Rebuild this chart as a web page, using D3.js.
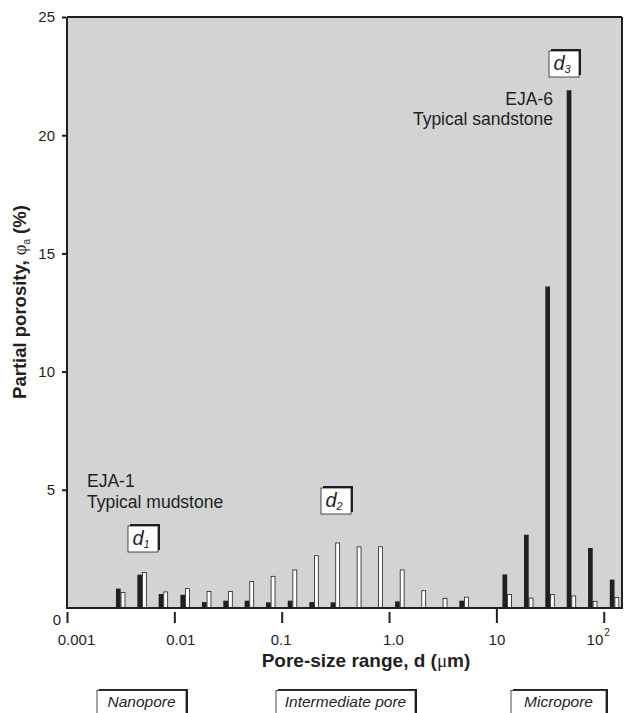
<!DOCTYPE html>
<html>
<head>
<meta charset="utf-8">
<script src="https://cdn.jsdelivr.net/npm/d3@7"></script>
<style>
body { margin: 0; background: #fff; }
svg { font-family: "Liberation Sans", Arial, Helvetica, sans-serif; }
</style>
</head>
<body>
<svg id="chart" width="624" height="713"></svg>
<script>
// pore-size classes (um), one pair of bars per class
var poreSizes = [0.00316, 0.005, 0.0079, 0.0126, 0.02, 0.0316, 0.05, 0.079, 0.126, 0.2, 0.316, 0.5,
                 0.79, 1.26, 2.0, 3.16, 5.0, 7.9, 12.6, 20, 31.6, 50, 79, 126];
// EJA-6, typical sandstone (black bars)
var sandstone = [0.82, 1.41, 0.59, 0.56, 0.25, 0.31, 0.31, 0.24, 0.31, 0.25, 0.24, 0,
                 0, 0.28, 0, 0, 0.31, 0, 1.42, 3.1, 13.6, 21.9, 2.54, 1.2];
// EJA-1, typical mudstone (white bars)
var mudstone = [0.66, 1.5, 0.68, 0.82, 0.70, 0.70, 1.12, 1.34, 1.61, 2.21, 2.75, 2.59,
                2.59, 1.61, 0.73, 0.41, 0.46, 0, 0.57, 0.42, 0.57, 0.51, 0.28, 0.44];
var xTicks = [0.001, 0.01, 0.1, 1, 10, 100];
var xTickLabels = ["0.001", "0.01", "0.1", "1.0", "10", "10"];
var yTicks = [5, 10, 15, 20, 25];
var poreClasses = ["Nanopore", "Intermediate pore", "Micropore"];

var svg = d3.select("#chart"),
    ink = "#231f20";

var x = d3.scaleLog().domain([0.001, 148]).range([67, 622]),
    y = d3.scaleLinear().domain([0, 25]).range([608, 17]);
var barW = 4.7;

// plot background
svg.append("rect")
    .attr("x", x(0.001)).attr("y", y(25))
    .attr("width", x(148) - x(0.001))
    .attr("height", y(0) - y(25))
    .attr("fill", "#d1d3d4");

var data = poreSizes.map(function(d, i) {
  return {size: d, sand: sandstone[i], mud: mudstone[i]};
});

var bars = svg.append("g");
bars.selectAll(".sand")
  .data(data.filter(function(d) { return d.sand > 0; }))
  .enter().append("rect")
    .attr("class", "sand")
    .attr("x", function(d) { return x(d.size) - barW; })
    .attr("y", function(d) { return y(d.sand); })
    .attr("width", barW)
    .attr("height", function(d) { return y(0) - y(d.sand); })
    .attr("fill", ink);

bars.selectAll(".mud")
  .data(data.filter(function(d) { return d.mud > 0; }))
  .enter().append("rect")
    .attr("class", "mud")
    .attr("x", function(d) { return x(d.size) + 0.4; })
    .attr("y", function(d) { return y(d.mud); })
    .attr("width", barW - 0.8)
    .attr("height", function(d) { return y(0) - y(d.mud); })
    .attr("fill", "#fff")
    .attr("stroke", ink)
    .attr("stroke-width", 0.8);

// frame
var frame = svg.append("g").attr("stroke", ink).attr("stroke-width", 2).attr("fill", "none");
frame.append("line").attr("x1", x(0.001)).attr("x2", x(0.001)).attr("y1", y(25)).attr("y2", y(0));
frame.append("line").attr("x1", x(0.001)).attr("x2", x(148)).attr("y1", y(25)).attr("y2", y(25));
frame.append("line").attr("x1", x(148)).attr("x2", x(148)).attr("y1", y(25)).attr("y2", y(0));
frame.append("line").attr("x1", x(0.001) - 1).attr("x2", x(148) + 1).attr("y1", y(0)).attr("y2", y(0));

// y axis
var yAxis = d3.axisLeft(y).tickValues(yTicks).tickSize(4).tickPadding(7);
var gy = svg.append("g")
    .attr("transform", "translate(" + (x(0.001) - 1) + ",0)")
    .call(yAxis);
gy.select(".domain").remove();
gy.selectAll("line").attr("stroke", ink).attr("stroke-width", 2);
gy.selectAll("text").attr("font-size", 15).attr("fill", ink).attr("font-family", null);

svg.append("text")
    .attr("x", 61).attr("y", 620).attr("dy", "0.35em")
    .attr("text-anchor", "end").attr("font-size", 15).attr("fill", ink)
    .text("0");

// x axis
var xAxis = d3.axisBottom(x).tickValues(xTicks).tickSize(11)
    .tickFormat(function(d, i) { return xTickLabels[i]; });
var gx = svg.append("g")
    .attr("transform", "translate(0,612)")
    .call(xAxis);
gx.select(".domain").remove();
gx.selectAll("line").attr("stroke", ink).attr("stroke-width", 2)
    .attr("y1", function(d) { return d === 10 ? -4 : 0; });
var labelShift = [9, 6, -1, 4, 0, -6];
gx.selectAll("text")
    .attr("font-size", 15).attr("fill", ink).attr("font-family", null)
    .attr("y", 22)
    .attr("dx", function(d, i) { return labelShift[i]; });
gx.selectAll(".tick").filter(function(d) { return d === 100; }).select("text")
  .append("tspan")
    .attr("font-size", 10).attr("dy", "-0.9em").attr("dx", 1)
    .text("2");

svg.append("text")
    .attr("x", 366).attr("y", 667)
    .attr("text-anchor", "middle")
    .attr("font-size", 19).attr("font-weight", "bold").attr("fill", ink)
    .call(function(t) {
      t.append("tspan").text("Pore-size range, d (");
      t.append("tspan").attr("font-weight", "normal").attr("font-family", "Liberation Serif, serif").text("\u03bc");
      t.append("tspan").text("m)");
    });

svg.append("text")
    .attr("transform", "translate(26,302) rotate(-90)")
    .attr("text-anchor", "middle")
    .attr("font-size", 18.5).attr("font-weight", "bold").attr("fill", ink)
    .call(function(t) {
      t.append("tspan").text("Partial porosity, ");
      t.append("tspan").attr("font-weight", "normal").attr("font-family", "Liberation Serif, serif").text("\u03c6");
      t.append("tspan").attr("font-weight", "normal").attr("font-size", 10).attr("dy", 4).text("a");
      t.append("tspan").attr("dy", -4).text(" (%)");
    });

// sample annotations
var note = svg.append("g").attr("font-size", 17.5).attr("fill", ink);
note.append("text").attr("x", 87).attr("y", 487).text("EJA-1");
note.append("text").attr("x", 87).attr("y", 508).text("Typical mudstone");
note.append("text").attr("x", 553).attr("y", 105).attr("text-anchor", "end").text("EJA-6");
note.append("text").attr("x", 553).attr("y", 125).attr("text-anchor", "end").text("Typical sandstone");

// d1, d2, d3 boxes
function dBox(x0, y0, sub) {
  var g = svg.append("g");
  g.append("rect").attr("x", x0 + 2).attr("y", y0 - 2).attr("width", 30).attr("height", 26).attr("fill", ink);
  g.append("rect").attr("x", x0).attr("y", y0).attr("width", 30).attr("height", 26)
      .attr("fill", "#fff").attr("stroke", ink).attr("stroke-width", 0.8);
  var t = g.append("text").attr("x", x0 + 13).attr("y", y0 + 19)
      .attr("text-anchor", "middle").attr("font-style", "italic").attr("font-size", 20).attr("fill", ink);
  t.append("tspan").text("d");
  t.append("tspan").attr("font-size", 11).attr("dy", 3).text(sub);
}
dBox(128, 526, "1");
dBox(321, 488, "2");
dBox(549, 51, "3");

// pore class boxes under the axis
var classBox = [[97, 186], [276, 415], [511, 606]];
poreClasses.forEach(function(name, i) {
  var b = classBox[i];
  svg.append("rect").attr("x", b[0] + 2).attr("y", 689).attr("width", b[1] - b[0]).attr("height", 40).attr("fill", ink);
  svg.append("rect").attr("x", b[0]).attr("y", 690.5).attr("width", b[1] - b[0]).attr("height", 40)
      .attr("fill", "#fff").attr("stroke", ink).attr("stroke-width", 0.8);
  svg.append("text").attr("x", (b[0] + b[1]) / 2).attr("y", 707)
      .attr("text-anchor", "middle").attr("font-style", "italic").attr("font-size", 15.5).attr("fill", ink)
      .text(name);
});
</script>
</body>
</html>
